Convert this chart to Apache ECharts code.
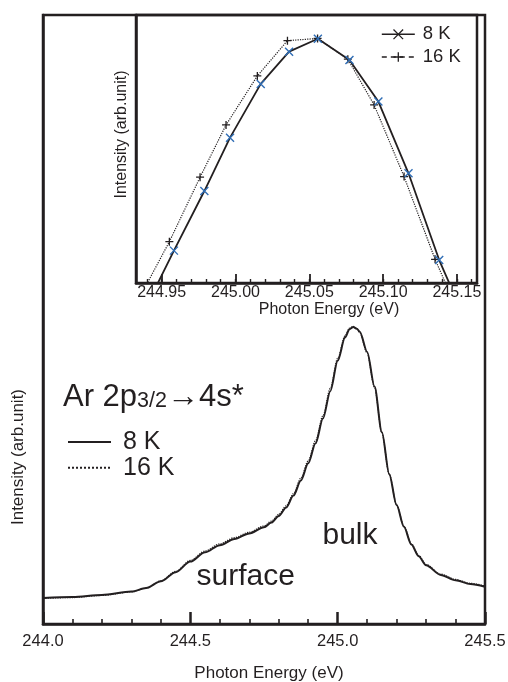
<!DOCTYPE html>
<html>
<head>
<meta charset="utf-8">
<script src="https://cdn.jsdelivr.net/npm/echarts@6/dist/echarts.min.js"></script>
<style>
  html, body { margin: 0; padding: 0; background: #fff; }
  #chart { width: 508px; height: 682px; }
</style>
</head>
<body>
<div id="chart"></div>
<script>
// Ar 2p3/2 -> 4s* absorption spectrum of solid argon at 8 K and 16 K,
// with a close-up of the bulk peak.

// Full spectrum (photon energy in eV, intensity in arb. units)
const mainEnergy = [244.00, 244.10, 244.20, 244.30, 244.35, 244.40, 244.45, 244.50, 244.55, 244.60,
  244.65, 244.70, 244.75, 244.775, 244.80, 244.825, 244.85, 244.875, 244.90, 244.925,
  244.95, 244.975, 245.00, 245.025, 245.04, 245.053, 245.065, 245.075, 245.10, 245.125,
  245.15, 245.175, 245.20, 245.225, 245.25, 245.275, 245.30, 245.35, 245.40, 245.45, 245.50];
const main8K = [0.0875, 0.091, 0.0975, 0.109, 0.121, 0.144, 0.1746, 0.210, 0.2415, 0.2654,
  0.2862, 0.3048, 0.3253, 0.3414, 0.3633, 0.3922, 0.4322, 0.483, 0.5409, 0.6081,
  0.6916, 0.7837, 0.8863, 0.964, 0.992, 1.000, 0.994, 0.9839, 0.9159, 0.7995,
  0.6458, 0.5045, 0.4003, 0.3273, 0.2677, 0.2284, 0.1974, 0.1652, 0.1473, 0.1345, 0.1255];
const main16K = [0.086, 0.089, 0.096, 0.108, 0.121, 0.145, 0.177, 0.214, 0.246, 0.270,
  0.291, 0.309, 0.330, 0.346, 0.369, 0.398, 0.439, 0.491, 0.549, 0.617,
  0.701, 0.793, 0.894, 0.970, 0.996, 1.002, 0.993, 0.981, 0.912, 0.797,
  0.644, 0.504, 0.401, 0.329, 0.270, 0.231, 0.200, 0.168, 0.150, 0.137, 0.128];

// Close-up of the bulk peak
const inset8KEnergy = [244.938, 244.9583, 244.9789, 244.9963, 245.0171, 245.0363, 245.0558,
  245.0772, 245.0968, 245.1172, 245.1380, 245.158];
const inset8K = [0.777, 0.8265, 0.8753, 0.9190, 0.9630, 0.9894, 1.0000,
  0.9826, 0.9485, 0.8898, 0.8188, 0.7633];
const inset16KEnergy = [244.9352, 244.9552, 244.976, 244.9936, 245.0148, 245.0352, 245.0556,
  245.0761, 245.0939, 245.1142, 245.1352, 245.1552];
const inset16K = [0.7885, 0.8338, 0.8866, 0.9294, 0.9695, 0.9984, 1.0002,
  0.9832, 0.9458, 0.8871, 0.8194, 0.7640];

// Axis ranges and tick labels
const mainTickLabels = [244.0, 244.5, 245.0, 245.5];
const insetRange = [244.9326, 245.1636];
const insetTickLabels = [244.95, 245.00, 245.05, 245.10, 245.15];
const insetMinorRange = [244.94, 245.16];

const INK = '#231f20';
const BLUE = '#2f6db5';
const FONT = '"Liberation Sans", Arial, Helvetica, sans-serif';

const pairs = (xs, ys) => xs.map((x, i) => [x, ys[i]]);
const CROSS = 'path://M0,0L10,10M10,0L0,10';
const PLUS = 'path://M5,0L5,10M0,5L10,5';

// Inset plot box (pixels) and the helper boxes that carry its tick marks,
// so each tick axis can start on a round value.
const INSET = { left: 136, right: 477, top: 15, bottom: 283 };
const W = 508, H = 682;
const insetScale = (INSET.right - INSET.left) / (insetRange[1] - insetRange[0]);
const xPix = v => INSET.left + (v - insetRange[0]) * insetScale;
const tickGrid = (lo, hi) => ({
  left: xPix(lo), right: W - xPix(hi), top: INSET.top, bottom: H - INSET.bottom,
  show: false, outerBoundsMode: 'none', containLabel: false
});

const chart = echarts.init(document.getElementById('chart'), null, { renderer: 'canvas' });
const noSplit = { show: false };

chart.setOption({
  animation: false,
  backgroundColor: '#fff',
  textStyle: { fontFamily: FONT, color: INK },
  grid: [
    { left: 43, right: 23, top: 15, bottom: 58, show: true, borderColor: INK, borderWidth: 2.5,
      backgroundColor: 'transparent', outerBoundsMode: 'none', containLabel: false },
    { left: INSET.left, right: W - INSET.right, top: INSET.top, bottom: H - INSET.bottom,
      show: true, borderColor: INK, borderWidth: 2.5, backgroundColor: 'transparent',
      outerBoundsMode: 'none', containLabel: false },
    tickGrid(insetTickLabels[0], insetTickLabels[insetTickLabels.length - 1]),
    tickGrid(insetMinorRange[0], insetMinorRange[1])
  ],
  xAxis: [
    {
      type: 'value', gridIndex: 0, position: 'bottom',
      min: mainTickLabels[0], max: mainTickLabels[mainTickLabels.length - 1],
      interval: mainTickLabels[1] - mainTickLabels[0],
      axisLine: { show: true, lineStyle: { color: INK, width: 2.5 } },
      axisTick: { show: true, inside: true, length: 12, lineStyle: { color: INK, width: 2.5 } },
      minorTick: { show: true, splitNumber: 5, length: 5, lineStyle: { color: INK, width: 1.6 } },
      axisLabel: { show: true, formatter: v => v.toFixed(1), margin: 9,
        fontSize: 16.5, color: INK, fontFamily: FONT },
      splitLine: noSplit, minorSplitLine: noSplit,
      name: 'Photon Energy (eV)', nameLocation: 'middle', nameGap: 41,
      nameTextStyle: { fontSize: 17, color: INK, fontFamily: FONT, padding: [0, 0, 0, 10] },
      z: 5
    },
    {
      type: 'value', gridIndex: 1, position: 'bottom', min: insetRange[0], max: insetRange[1],
      axisLine: { show: true, lineStyle: { color: INK, width: 2.5 } },
      axisTick: { show: false }, axisLabel: { show: false }, splitLine: noSplit,
      name: 'Photon Energy (eV)', nameLocation: 'middle', nameGap: 19,
      nameTextStyle: { fontSize: 16, color: INK, fontFamily: FONT, padding: [0, 0, 0, 45] }
    },
    {
      type: 'value', gridIndex: 2, position: 'bottom',
      min: insetTickLabels[0], max: insetTickLabels[insetTickLabels.length - 1],
      interval: 0.05,
      axisLine: { show: false },
      axisTick: { show: true, inside: true, length: 9, lineStyle: { color: INK, width: 1.8 } },
      axisLabel: { show: true, formatter: v => v.toFixed(2), margin: 2, fontSize: 16, color: INK, fontFamily: FONT },
      splitLine: noSplit, z: 5
    },
    {
      type: 'value', gridIndex: 3, position: 'bottom', min: insetMinorRange[0], max: insetMinorRange[1], interval: 0.01,
      axisLine: { show: false },
      axisTick: { show: true, inside: true, length: 4, lineStyle: { color: INK, width: 1.4 } },
      axisLabel: { show: false }, splitLine: noSplit, z: 5
    }
  ],
  yAxis: [
    {
      type: 'value', gridIndex: 0, min: 0, max: 2.05,
      axisLine: { show: true, lineStyle: { color: INK, width: 2.5 } },
      axisTick: { show: false }, axisLabel: { show: false }, splitLine: noSplit,
      name: 'Intensity (arb.unit)', nameLocation: 'middle', nameGap: 16,
      nameTextStyle: { fontSize: 17, color: INK, fontFamily: FONT, padding: [0, 275, 0, 0] }
    },
    {
      type: 'value', gridIndex: 1, min: 0.8, max: 1.0194,
      axisLine: { show: true, lineStyle: { color: INK, width: 2.5 } },
      axisTick: { show: false }, axisLabel: { show: false }, splitLine: noSplit,
      name: 'Intensity (arb.unit)', nameLocation: 'middle', nameGap: 6,
      nameTextStyle: { fontSize: 16, color: INK, fontFamily: FONT, padding: [0, 0, 0, 29] }
    },
    { type: 'value', gridIndex: 2, show: false },
    { type: 'value', gridIndex: 3, show: false }
  ],
  legend: [
    {
      left: 67, top: 429.5, orient: 'vertical', padding: 0, itemGap: 0.7,
      itemWidth: 43, itemHeight: 12, selectedMode: false,
      textStyle: { fontSize: 25, lineHeight: 25, color: INK, fontFamily: FONT, padding: [0, 0, 0, 7] },
      itemStyle: { color: 'transparent', borderWidth: 0, opacity: 0 },
      data: ['8 K', '16 K']
    },
    {
      left: 381, top: 24.3, orient: 'vertical', padding: 0, itemGap: 2.7,
      itemWidth: 33, itemHeight: 12, selectedMode: false,
      formatter: n => n.replace('inset ', ''),
      textStyle: { fontSize: 18.5, lineHeight: 20, color: INK, fontFamily: FONT, padding: [0, 0, 0, 3] },
      data: [
        { name: 'inset 8 K', itemStyle: { color: 'transparent', borderColor: INK, borderWidth: 1.3 },
          lineStyle: { color: INK, width: 1.6, type: 'solid' } },
        { name: 'inset 16 K', itemStyle: { color: 'transparent', borderColor: INK, borderWidth: 1.3 },
          lineStyle: { color: INK, width: 1.3, type: [5, 4] } }
      ]
    }
  ],
  series: [
    {
      name: '16 K', type: 'line', xAxisIndex: 0, yAxisIndex: 0,
      data: pairs(mainEnergy, main16K), symbol: 'none', smooth: 0.3, smoothMonotone: 'x',
      lineStyle: { color: INK, width: 1.2, type: 'dotted' }, itemStyle: { color: INK }, z: 2
    },
    {
      name: '8 K', type: 'line', xAxisIndex: 0, yAxisIndex: 0,
      data: pairs(mainEnergy, main8K), symbol: 'none', smooth: 0.3, smoothMonotone: 'x',
      lineStyle: { color: INK, width: 2, type: 'solid' }, itemStyle: { color: INK }, z: 3
    },
    {
      name: 'inset 16 K', type: 'line', xAxisIndex: 1, yAxisIndex: 1, clip: true,
      data: pairs(inset16KEnergy, inset16K), symbol: PLUS, symbolSize: 8, showAllSymbol: true,
      lineStyle: { color: INK, width: 1.2, type: 'dotted' },
      itemStyle: { color: 'transparent', borderColor: INK, borderWidth: 1.3 }, z: 4
    },
    {
      name: 'inset 8 K', type: 'line', xAxisIndex: 1, yAxisIndex: 1, clip: true,
      data: pairs(inset8KEnergy, inset8K), symbol: CROSS, symbolSize: 8, showAllSymbol: true,
      lineStyle: { color: INK, width: 1.8, type: 'solid' },
      itemStyle: { color: 'transparent', borderColor: BLUE, borderWidth: 1.4 }, z: 5
    }
  ],
  graphic: [
    {
      type: 'text', x: 63, y: 397.6, z: 10,
      style: {
        text: '{a|Ar 2p}{s|3/2}{r|→}{a|4s*}',
        verticalAlign: 'middle', align: 'left',
        rich: {
          a: { fontSize: 31, fontFamily: FONT, fill: INK, color: INK },
          s: { fontSize: 21.5, fontFamily: FONT, fill: INK, color: INK, padding: [6.6, 0, 0, 0] },
          r: { fontSize: 32, fontFamily: FONT, fill: INK, color: INK }
        }
      }
    },
    {
      type: 'text', x: 322.5, y: 535.6, z: 10,
      style: { text: 'bulk', fontSize: 30, fontFamily: FONT, fill: INK, verticalAlign: 'middle', align: 'left' }
    },
    {
      type: 'text', x: 196.5, y: 577, z: 10,
      style: { text: 'surface', fontSize: 30, fontFamily: FONT, fill: INK, verticalAlign: 'middle', align: 'left' }
    }
  ]
});
</script>
</body>
</html>
